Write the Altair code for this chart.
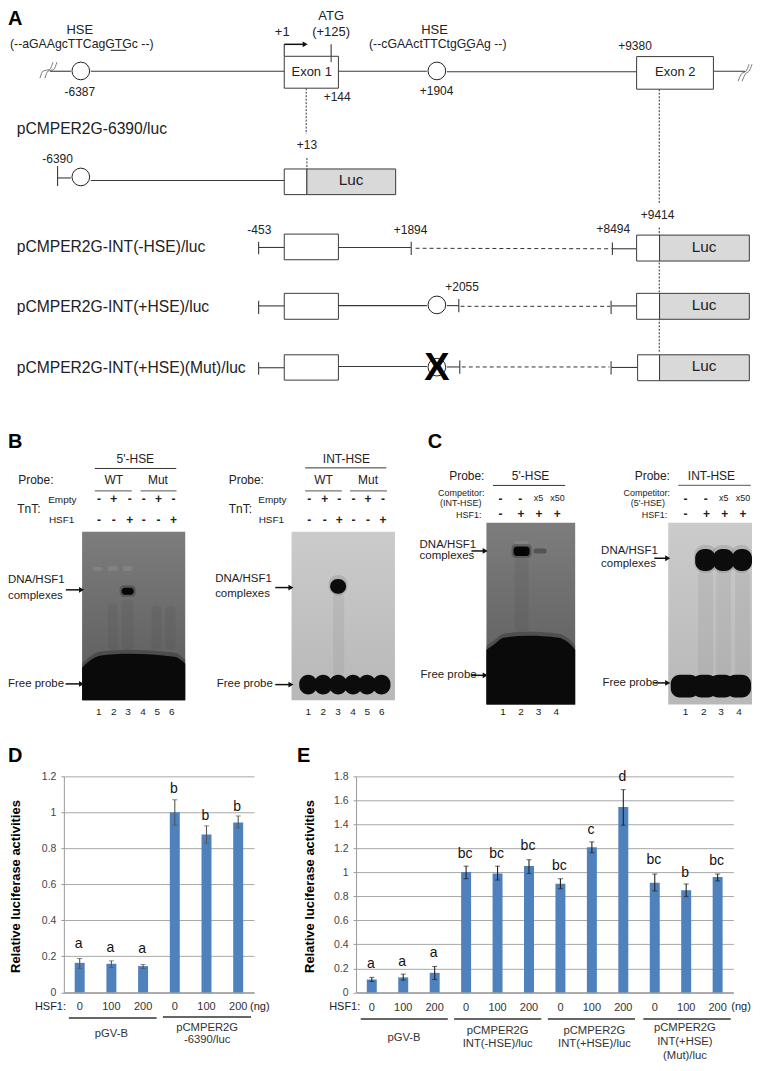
import altair as alt
import pandas as pd

FONT = "Liberation Sans"

# ---------- Panels D / E values ----------
D_GROUP = ["pGV-B"] * 3 + ["pCMPER2G -6390/luc"] * 3
D_DOSE = ["0", "100", "200", "0", "100", "200"]
D_VALUE = [0.164, 0.159, 0.146, 1.0, 0.877, 0.943]
D_HIGH = [0.188, 0.175, 0.155, 1.07, 0.925, 0.98]
D_LOW = [0.133, 0.138, 0.133, 0.929, 0.829, 0.914]
D_LETTER = ["a", "a", "a", "b", "b", "b"]
D_LETTER_Y = [0.245, 0.223, 0.218, 1.105, 0.955, 1.01]

E_GROUP = ["pGV-B"] * 3 + ["INT(-HSE)"] * 3 + ["INT(+HSE)"] * 3 + ["Mut"] * 3
E_DOSE = ["0", "100", "200"] * 4
E_VALUE = [0.108, 0.125, 0.163, 1.002, 0.991, 1.052, 0.906, 1.21, 1.545, 0.914, 0.85, 0.961]
E_HIGH = [0.125, 0.152, 0.216, 1.052, 1.052, 1.105, 0.947, 1.254, 1.689, 0.986, 0.903, 0.986]
E_LOW = [0.091, 0.102, 0.108, 0.947, 0.936, 0.991, 0.864, 1.163, 1.393, 0.845, 0.798, 0.928]
E_LETTER = ["a", "a", "a", "bc", "bc", "bc", "bc", "c", "d", "bc", "b", "bc"]
E_LETTER_Y = [0.202, 0.219, 0.296, 1.116, 1.116, 1.183, 1.016, 1.32, 1.758, 1.072, 0.964, 1.063]

# ---------- Panel A schematic: segments (x1, y1, x2, y2) ----------
A_LINES = [
    (50, 70, 71, 70), (91, 70, 285, 70), (339, 70, 428, 70), (448, 70.5, 638, 70.5),
    (715, 70, 747, 70), (332, 43, 332, 61), (285, 43, 285, 55),
    (58, 177, 71, 177), (91, 179.5, 285, 179.5), (57.7, 165, 57.7, 185),
    (259, 246.7, 285, 246.7), (339, 246.7, 412, 246.7), (614, 248, 638, 248),
    (259.3, 241, 259.3, 253.5), (412.3, 241, 412.3, 254.3), (614, 241.7, 614, 254.3),
    (259, 305.3, 285, 305.3), (339, 305, 428, 305), (448, 305, 460, 305), (613, 305.3, 638, 305.3),
    (259.3, 300, 259.3, 313.3), (460, 298.3, 460, 311.7), (612.7, 300, 612.7, 313.3),
    (259, 367.3, 285, 367.3), (339, 366, 428, 366), (448, 366.5, 461, 366.5), (613, 367, 639, 367),
    (259.3, 361.7, 259.3, 374.3), (461, 360, 461, 373.3), (612.7, 360.7, 612.7, 374),
]
A_DASHED = [
    (416.7, 247.5, 613.3, 248), (461.7, 305.7, 611.7, 305.7), (463, 366.5, 611, 366.5),
]
A_DOTTED = [
    (307, 87, 307, 133), (307.7, 157, 307.7, 168), (661, 88, 661, 203), (661, 226.7, 661, 351.7),
]
A_UNDERLINE = [(111, 49, 126.5, 49), (466, 49, 472, 49)]
WHITE_BOXES = [
    (285, 55, 339.3, 87), (638.3, 55.3, 715.3, 88), (285, 168, 307.7, 193.7),
    (285, 233.3, 339.3, 259), (638.3, 234.3, 661.3, 260.3),
    (285, 292.7, 339.3, 318.7), (638.3, 292.7, 661.3, 318.7),
    (285, 354.3, 339.3, 379.7), (639.3, 354.3, 661.3, 380.3),
]
LUC_BOXES = [
    (307.7, 168, 396.7, 193.7), (661.3, 234.3, 751.3, 260.3),
    (661.3, 292.7, 751.3, 318.7), (661.3, 354.3, 751.3, 380.3),
]
ATG_TICK = [(332, 55, 332, 61)]
HSE_SITES = [(81, 69.7), (438, 69.7), (81, 176), (438, 304.3), (438, 366.7)]
SQUIGGLES = [
    ("l1", [(40, 77), (43, 70), (50, 68), (53, 61)]),
    ("l2", [(45, 77), (48, 70), (54, 68), (57, 61)]),
    ("r1", [(740, 80), (744, 72), (748, 70), (751, 63)]),
    ("r2", [(744, 80), (748, 72), (751, 70), (754, 63)]),
]

# ---------- Arrows (x1, x2, y) ----------
ARROWS = [
    (285, 306, 43), (66, 81.7, 590), (65.7, 81.7, 684.3), (276, 291.7, 587.7), (276, 291.7, 685),
    (472.7, 486.5, 551), (472.7, 486.5, 675.7), (656, 669.5, 558.3), (656, 669.5, 683.3),
]

# ---------- Header rules in B / C ----------
BC_DARK = [(95, 468.3, 176.7, 468.3), (306, 467.7, 387.3, 467.7), (494.3, 485.3, 566.7, 485.3)]
BC_GRAY = [
    (95, 490.7, 132, 490.7), (141, 490.7, 177, 490.7), (306, 490.7, 342.7, 490.7),
    (351, 490.7, 388, 490.7), (680, 485.3, 752.7, 485.3),
]

# ---------- Gels ----------
GEL_DARK = [(82.3, 531.7, 185.7, 700.7), (487.7, 522.7, 576.7, 705)]
GEL_LIGHT = [(292.3, 531.7, 396, 700.7), (670, 522.7, 754, 705)]
B1_EDGE = [(82.3, 668), (90, 661), (100, 656), (130, 654), (175, 657), (185.7, 664)]
C1_EDGE = [(487.7, 650), (495, 645), (505, 638), (530, 636), (560, 638), (570, 643), (576.7, 650)]
DARK_SMEAR = [
    (108, 604, 118, 650), (122, 600, 134, 650), (152, 606, 162, 650), (166, 606, 176, 650),
    (516, 558, 530, 632),
]
FAINT_BANDS = [(93, 567, 103, 571), (108, 566, 118, 571), (123, 566, 133, 571), (516, 541, 530, 547)]
LIGHT_SMEAR = [
    (334, 594, 345, 676), (700, 571, 715, 676), (718, 571, 733, 676), (737, 571, 752, 676),
]
WEAK_BANDS = [(535, 548.5, 548, 553.5)]
STRONG_BANDS = [(122, 588, 134, 595), (515, 546.5, 531, 556)]
BAND_HALOS = [(120, 585.5, 136, 597), (513, 544, 533, 558)]
BIG_BANDS = [
    (331, 579, 347, 594), (697, 549, 717.5, 571), (715, 549, 736, 571), (734, 549, 754, 571),
]
BIG_HALOS = [(329.5, 575, 348.5, 596), (696, 545, 719, 573), (713.5, 545, 737.5, 573), (732.5, 545, 754, 573)]
PROBE_BLOBS = [
    (300, 675, 318, 695), (315, 675, 333, 695), (330, 675, 348, 695),
    (345, 675, 363, 695), (359, 675, 377, 695), (373.5, 675, 391.5, 695),
    (672.5, 675, 701, 698), (694, 675, 719, 698), (711, 675, 736, 698), (728, 675, 753, 698),
]

# ---------- Texts (x, baseline y, text) ----------
LETTERS_L = [(8, 24, "A"), (8, 448, "B"), (429, 448, "C"), (8, 762.7, "D"), (297.7, 762.7, "E")]
LABELS_15 = [
    (16.7, 133, "pCMPER2G-6390/luc"), (16.7, 251.7, "pCMPER2G-INT(-HSE)/luc"),
    (16.7, 311, "pCMPER2G-INT(+HSE)/luc"), (16.7, 372.3, "pCMPER2G-INT(+HSE)(Mut)/luc"),
]
LUC_TEXT = [(352, 184.3, "Luc"), (706, 251, "Luc"), (706, 309, "Luc"), (706, 371, "Luc")]
A_13_C = [
    (80, 32.7, "HSE"), (435.7, 32.7, "HSE"), (332, 18.7, "ATG"), (332, 34.3, "(+125)"),
    (283, 34.7, "+1"), (312.5, 75, "Exon 1"), (677, 75, "Exon 2"),
]
A_SEQ = [(10, 47, "(--aGAAgcTTCagGTGc  --)"), (370, 47, "(--cGAActTTCtgGGAg --)")]
A_12_C = [
    (338, 100, "+144"), (80, 95, "-6387"), (307.7, 148.3, "+13"), (57.7, 161.7, "-6390"),
    (659.3, 217.7, "+9414"), (636.7, 48.3, "+9380"), (437.7, 93.7, "+1904"),
    (260, 232.7, "-453"), (411.7, 232.7, "+1894"), (615, 231.7, "+8494"), (463.3, 290, "+2055"),
]
MUT_X = [(438, 379.5, "X")]
BC_12_L = [
    (18.3, 484.3, "Probe:"), (17.3, 513.3, "TnT:"), (229.3, 484.3, "Probe:"), (229.3, 513.3, "TnT:"),
]
BC_12_C = [
    (135.7, 462.7, "5'-HSE"), (114, 484.3, "WT"), (158.3, 484.3, "Mut"),
    (347.3, 462.7, "INT-HSE"), (324.3, 484.3, "WT"), (369, 484.3, "Mut"),
    (532, 480, "5'-HSE"), (713.3, 480, "INT-HSE"),
]
BC_12_R = [(485.7, 480, "Probe:"), (671.7, 480, "Probe:")]
BC_10_L = [(48.3, 503.3, "Empty"), (49, 523.3, "HSF1"), (259, 503.3, "Empty"), (259.3, 523.3, "HSF1")]
BC_9_R = [
    (485.7, 496, "Competitor:"), (482.7, 506, "(INT-HSE)"), (482.7, 518.3, "HSF1:"),
    (671.7, 496, "Competitor:"), (666.7, 506, "(5'-HSE)"), (669, 518.3, "HSF1:"),
]
BC_9_C = [(540, 501, "x5"), (559, 501, "x50"), (725.7, 501, "x5"), (745, 501, "x50")]
COMPLEX_L = [
    (8, 583.3, "DNA/HSF1"), (8, 599, "complexes"), (8, 687.7, "Free probe"),
    (215.7, 582.3, "DNA/HSF1"), (215.7, 596.7, "complexes"), (217.3, 687.7, "Free probe"),
    (420.7, 547.7, "DNA/HSF1"), (420.7, 559.5, "complexes"), (421.7, 678.3, "Free probe"),
    (602.7, 554.3, "DNA/HSF1"), (602.7, 566.7, "complexes"), (604, 686, "Free probe"),
]
SIGNS = [
    (99.3, 503, "-"), (114, 503, "+"), (130, 503, "-"), (144, 503, "-"), (159, 503, "+"), (174, 503, "-"),
    (99.3, 524, "-"), (114, 524, "-"), (130, 524, "+"), (144, 524, "-"), (159, 524, "-"), (174, 524, "+"),
    (310, 503, "-"), (325.7, 503, "+"), (340, 503, "-"), (354.3, 503, "-"), (369, 503, "+"), (384, 503, "-"),
    (310, 524, "-"), (325.7, 524, "-"), (340, 524, "+"), (354.3, 524, "-"), (369, 524, "-"), (384, 524, "+"),
    (501.7, 503, "-"), (521.7, 503, "-"), (501.7, 518.3, "-"), (522.3, 518.3, "+"), (540.3, 518.3, "+"), (558.7, 518.3, "+"),
    (687.3, 503, "-"), (707.7, 503, "-"), (687.3, 518.3, "-"), (708.3, 518.3, "+"), (726.7, 518.3, "+"), (745, 518.3, "+"),
]
LANE_NUMS = [
    (99, 715, "1"), (114, 715, "2"), (128.3, 715, "3"), (143.3, 715, "4"), (157.7, 715, "5"), (172.3, 715, "6"),
    (309, 715, "1"), (324, 715, "2"), (339, 715, "3"), (354, 715, "4"), (368.3, 715, "5"), (382.7, 715, "6"),
    (504.3, 715, "1"), (522.3, 715, "2"), (540, 715, "3"), (557.7, 715, "4"),
    (687.3, 715, "1"), (705.7, 715, "2"), (723, 715, "3"), (741, 715, "4"),
]

# ---------- Strip under the bar charts ----------
GROUP_LINES = [
    (69, 1019, 157, 1019), (163.3, 1018, 251.7, 1018), (361.7, 1020, 449, 1020),
    (455.3, 1020, 542.7, 1020), (549.3, 1020, 636.7, 1020), (645, 1020, 732.7, 1020),
]
STRIP_L = [(35, 1010.7, "HSF1:"), (250.7, 1010.7, "(ng)"), (330, 1010.7, "HSF1:"), (733.3, 1011, "(ng)")]
STRIP_C = [
    (111.7, 1037.7, "pGV-B"), (207.7, 1032.3, "pCMPER2G"), (207.7, 1044.3, "-6390/luc"),
    (405, 1041.7, "pGV-B"), (499, 1035, "pCMPER2G"), (499, 1048.3, "INT(-HSE)/luc"),
    (596, 1035, "pCMPER2G"), (596, 1048.3, "INT(+HSE)/luc"),
    (686.7, 1032.3, "pCMPER2G"), (686.7, 1046, "INT(+HSE)"), (686.7, 1060, "(Mut)/luc"),
]


# ---------- Helpers on a pixel-like schematic scale ----------
class Canvas:
    def __init__(self, top, bottom):
        self.sx = alt.Scale(domain=[8, 754], nice=False, zero=False)
        self.sy = alt.Scale(domain=[bottom, top], nice=False, zero=False)

    def X(self, f="x"):
        return alt.X(f"{f}:Q", scale=self.sx, axis=None)

    def Y(self, f="y"):
        return alt.Y(f"{f}:Q", scale=self.sy, axis=None)

    def seg(self, rows, **mark):
        df = pd.DataFrame(rows, columns=["x", "y", "x2", "y2"])
        return alt.Chart(df).mark_rule(**mark).encode(
            x=self.X(), y=self.Y(), x2=alt.X2("x2:Q"), y2=alt.Y2("y2:Q"))

    def box(self, rows, **mark):
        df = pd.DataFrame(rows, columns=["x", "y", "x2", "y2"])
        return alt.Chart(df).mark_rect(**mark).encode(
            x=self.X(), y=self.Y(), x2=alt.X2("x2:Q"), y2=alt.Y2("y2:Q"))

    def txt(self, rows, size, align="left", weight="normal", color="#222222"):
        df = pd.DataFrame(rows, columns=["x", "y", "t"])
        return alt.Chart(df).mark_text(
            fontSize=size, align=align, baseline="alphabetic", fontWeight=weight, color=color, font=FONT
        ).encode(x=self.X(), y=self.Y(), text="t:N")

    def edge(self, rows, bottom, color, opacity=1.0, shift=0):
        df = pd.DataFrame(rows, columns=["x", "y"])
        df["y"] = df["y"] + shift
        df["b"] = bottom
        return alt.Chart(df).mark_area(color=color, opacity=opacity, interpolate="monotone").encode(
            x=self.X(), y=self.Y(), y2=alt.Y2("b:Q"))


c = Canvas(8, 776.7)
dark_grad = alt.Gradient(gradient="linear", x1=0, y1=0, x2=0, y2=1,
                         stops=[alt.GradientStop(color="#7d7d7d", offset=0), alt.GradientStop(color="#5a5a5a", offset=1)])
light_grad = alt.Gradient(gradient="linear", x1=0, y1=0, x2=0, y2=1,
                          stops=[alt.GradientStop(color="#cbcbcb", offset=0), alt.GradientStop(color="#b8b8b8", offset=1)])

arrow_df = pd.DataFrame(ARROWS, columns=["x", "x2", "y"])
site_df = pd.DataFrame(HSE_SITES, columns=["x", "y"])
sq_df = pd.DataFrame([(n, x, y) for n, pts in SQUIGGLES for x, y in pts], columns=["n", "x", "y"])

top_layers = [
    # gels
    c.box(GEL_DARK, fill=dark_grad),
    c.box(GEL_LIGHT, fill=light_grad),
    c.box(DARK_SMEAR, color="#4a4a4a", opacity=0.14, cornerRadius=4),
    c.box(FAINT_BANDS, color="#939393", opacity=0.4, cornerRadius=2),
    c.edge(B1_EDGE, 700.7, "#222222", 0.35, -4),
    c.edge(C1_EDGE, 705, "#222222", 0.35, -4),
    c.edge(B1_EDGE, 700.7, "#0a0a0a"),
    c.edge(C1_EDGE, 705, "#0a0a0a"),
    c.box(BAND_HALOS, color="#1c1c1c", opacity=0.3, cornerRadius=4),
    c.box(STRONG_BANDS, color="#050505", cornerRadius=3),
    c.box(WEAK_BANDS, color="#3c3c3c", opacity=0.6, cornerRadius=2),
    c.box(LIGHT_SMEAR, color="#7a7a7a", opacity=0.14, cornerRadius=4),
    c.box(BIG_HALOS, color="#444444", opacity=0.16, cornerRadius=10),
    c.box(BIG_BANDS, color="#0c0c0c", cornerRadius=9),
    c.box(PROBE_BLOBS, color="#0c0c0c", cornerRadius=9),
    # panel A
    alt.Chart(sq_df).mark_line(color="#777777", strokeWidth=1, interpolate="monotone").encode(
        x=c.X(), y=c.Y(), detail="n:N"),
    c.seg(A_LINES, color="#3a3a3a", strokeWidth=1.1),
    c.seg(A_UNDERLINE, color="#222222", strokeWidth=1),
    c.seg(A_DASHED, color="#333333", strokeWidth=1, strokeDash=[4, 3]),
    c.seg(A_DOTTED, color="#333333", strokeWidth=1, strokeDash=[2, 1.5]),
    c.box(WHITE_BOXES, fill="#ffffff", stroke="#3a3a3a", strokeWidth=1),
    c.box(LUC_BOXES, fill="#d9d9d9", stroke="#3a3a3a", strokeWidth=1),
    c.seg(ATG_TICK, color="#3a3a3a", strokeWidth=1),
    alt.Chart(site_df).mark_point(filled=True, fill="#ffffff", stroke="#222222", strokeWidth=1,
                                  opacity=1, size=314).encode(x=c.X(), y=c.Y()),
    # arrows
    alt.Chart(arrow_df).mark_rule(color="#111111", strokeWidth=1.5).encode(x=c.X(), x2=alt.X2("x2:Q"), y=c.Y()),
    alt.Chart(arrow_df).mark_point(shape="triangle-right", filled=True, color="#111111", size=34, opacity=1).encode(
        x=c.X("x2"), y=c.Y()),
    c.seg(BC_DARK, color="#333333", strokeWidth=1),
    c.seg(BC_GRAY, color="#777777", strokeWidth=1.2),
    # text
    c.txt(LETTERS_L, 20, weight="bold", color="#000000"),
    c.txt(LABELS_15, 15.7),
    c.txt(LUC_TEXT, 15.4, "center"),
    c.txt(A_13_C, 13, "center"),
    c.txt(A_SEQ, 12.3),
    c.txt(A_12_C, 12, "center"),
    c.txt(MUT_X, 38, "center", "bold", "#000000"),
    c.txt(BC_12_L, 12),
    c.txt(BC_12_C, 12, "center"),
    c.txt(BC_12_R, 12, "right"),
    c.txt(BC_10_L, 10),
    c.txt(BC_9_R, 9, "right"),
    c.txt(BC_9_C, 9, "center"),
    c.txt(COMPLEX_L, 11.5),
    c.txt(SIGNS, 12, "center", "bold"),
    c.txt(LANE_NUMS, 10, "center"),
]
top = alt.layer(*top_layers).properties(width=746, height=768.7)


# ---------- Bars ----------
def bars(groups, doses, values, highs, lows, letters, letter_y, ymax, ticks, width,
         title_x, err_color, label_pad):
    df = pd.DataFrame({
        "k": [f"{d}|{i}" for i, d in enumerate(doses)],
        "v": values, "hi": highs, "lo": lows, "g": groups, "l": letters, "ly": letter_y,
    })
    order = list(df["k"])
    xscale = alt.Scale(domain=order, paddingInner=0, paddingOuter=0)
    xaxis = alt.Axis(title=None, labelAngle=0, labelExpr="split(datum.label,'|')[0]",
                     labelFontSize=11, labelColor="#333333", tickSize=0, labelPadding=label_pad,
                     labelOverlap=False, domainColor="#888888", grid=False)
    yaxis = alt.Axis(title="Relative luciferase activities", values=ticks, format="~g",
                     grid=True, gridColor="#a8a8a8", gridWidth=1, domainColor="#999999",
                     tickColor="#999999", tickSize=3, labelFontSize=10.5, labelColor="#444444",
                     labelPadding=5, labelOverlap=False, titleFontSize=13, titleFontWeight="bold",
                     titleColor="#000000", titleX=title_x, titleY=110, titleBaseline="alphabetic")
    xenc = alt.X("k:N", sort=order, scale=xscale, axis=xaxis)
    ysc = alt.Scale(domain=[0, ymax], nice=False)

    def Y(f):
        return alt.Y(f"{f}:Q", scale=ysc, axis=yaxis)

    base = alt.Chart(df)
    return alt.layer(
        base.mark_bar(size=10, color="#4f81bd").encode(x=xenc, y=Y("v")),
        base.mark_rule(color=err_color, strokeWidth=1.1).encode(x=xenc, y=Y("lo"), y2="hi:Q"),
        base.mark_tick(color=err_color, size=5, thickness=1, orient="horizontal").encode(x=xenc, y=Y("lo")),
        base.mark_tick(color=err_color, size=5, thickness=1, orient="horizontal").encode(x=xenc, y=Y("hi")),
        base.mark_text(fontSize=14, baseline="alphabetic", color="#111111", dx=-1, font=FONT).encode(
            x=xenc, y=Y("ly"), text="l:N"),
    ).properties(width=width, height=216.6)


chart_d = bars(D_GROUP, D_DOSE, D_VALUE, D_HIGH, D_LOW, D_LETTER, D_LETTER_Y, 1.2,
               [0, 0.2, 0.4, 0.6, 0.8, 1, 1.2], 190.7, -44, "#555555", 8)
chart_e = bars(E_GROUP, E_DOSE, E_VALUE, E_HIGH, E_LOW, E_LETTER, E_LETTER_Y, 1.8,
               [0, 0.2, 0.4, 0.6, 0.8, 1, 1.2, 1.4, 1.6, 1.8], 378.3, -42.7, "#222222", 9)


def spacer(w):
    return alt.Chart(pd.DataFrame({"v": [0]})).mark_text(text=" ").encode(x=alt.value(0)).properties(
        width=w, height=216.6)


row = alt.hconcat(spacer(55.3), chart_d, spacer(101.7), chart_e, spacing=0, bounds="flush")

# the nested row takes no height in a flush layout, so this strip starts at the bar charts' top
s = Canvas(776.7, 1063)
strip = alt.layer(
    s.seg(GROUP_LINES, color="#333333", strokeWidth=1.4),
    s.txt(STRIP_L, 11),
    s.txt(STRIP_C, 11.3, "center", color="#333333"),
).properties(width=746, height=286.3)

chart = alt.vconcat(top, row, strip, spacing=0, bounds="flush").resolve_scale(
    x="independent", y="independent"
).configure(font=FONT, padding=0).configure_view(stroke=None)

chart.save("out.html", embed_options={"renderer": "svg", "actions": False})
